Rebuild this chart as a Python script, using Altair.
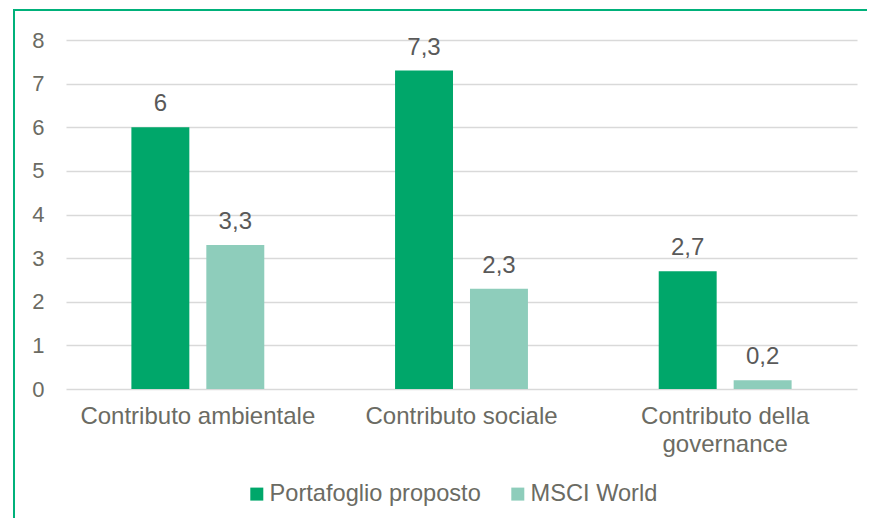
import altair as alt
import pandas as pd

categories = ["Contributo ambientale", "Contributo sociale", "Contributo della governance"]
series = ["Portafoglio proposto", "MSCI World"]
portafoglio = [6.0, 7.3, 2.7]
msci = [3.3, 2.3, 0.2]
colors = ["#00A76A", "#8ECDBB"]

rows = []
for i, c in enumerate(categories):
    rows.append({"cat": c, "series": series[0], "value": portafoglio[i]})
    rows.append({"cat": c, "series": series[1], "value": msci[i]})
df = pd.DataFrame(rows)

FONT = "Liberation Sans"
AXIS_COL = "#6B6B63"
LABEL_COL = "#595959"

base = alt.Chart(df).transform_calculate(
    lbl="replace(toString(datum.value), '.', ',')"
)

x = alt.X(
    "cat:N",
    sort=categories,
    title=None,
    scale=alt.Scale(paddingInner=0.496, paddingOuter=0.248),
    axis=alt.Axis(
        labelAngle=0,
        labelFontSize=24,
        labelColor=AXIS_COL,
        labelFont=FONT,
        labelPadding=15,
        labelLineHeight=28,
        domain=False,
        ticks=False,
        labelLimit=400,
        labelExpr="datum.label == 'Contributo della governance' ? ['Contributo della', 'governance'] : datum.label",
    ),
)
xoff = alt.XOffset(
    "series:N", sort=series, scale=alt.Scale(paddingInner=0.2267, paddingOuter=0)
)
color = alt.Color(
    "series:N",
    sort=series,
    scale=alt.Scale(domain=series, range=colors),
    legend=alt.Legend(
        title=None,
        orient="none",
        direction="horizontal",
        legendX=179,
        legendY=442,
        symbolType="square",
        symbolSize=169,
        symbolStrokeWidth=0,
        labelFontSize=23.6,
        labelFont=FONT,
        labelColor=AXIS_COL,
        labelOffset=1,
        columnPadding=25,
        labelLimit=400,
    ),
)
y = alt.Y(
    "value:Q",
    title=None,
    scale=alt.Scale(domain=[0, 8]),
    axis=alt.Axis(
        values=list(range(0, 9)),
        labelFontSize=22,
        labelColor=AXIS_COL,
        labelFont=FONT,
        labelPadding=22,
        domain=False,
        ticks=False,
        grid=True,
        gridColor="#D9D9D9",
        gridWidth=1.5,
    ),
)

bars = base.mark_bar().encode(x=x, xOffset=xoff, y=y, color=color)
labels = base.mark_text(
    baseline="bottom", dy=-11, fontSize=24, font=FONT, color=LABEL_COL
).encode(x=x, xOffset=xoff, y="value:Q", text="lbl:N")

border = alt.Chart(alt.Data(values=[{"a": 1}])).mark_rect(
    fill=None, stroke="#00B17A", strokeWidth=2
).encode(
    x=alt.value(-52), x2=alt.value(1000), y=alt.value(-30), y2=alt.value(800)
)

chart = alt.layer(bars, labels, border).properties(
    width=791,
    height=349,
    autosize=alt.AutoSizeParams(type="none"),
    padding={"left": 58, "top": 32, "right": 10, "bottom": 129},
    background="white",
).configure_view(stroke=None)

chart.save("out.html", embed_options={"renderer": "svg", "actions": False})
